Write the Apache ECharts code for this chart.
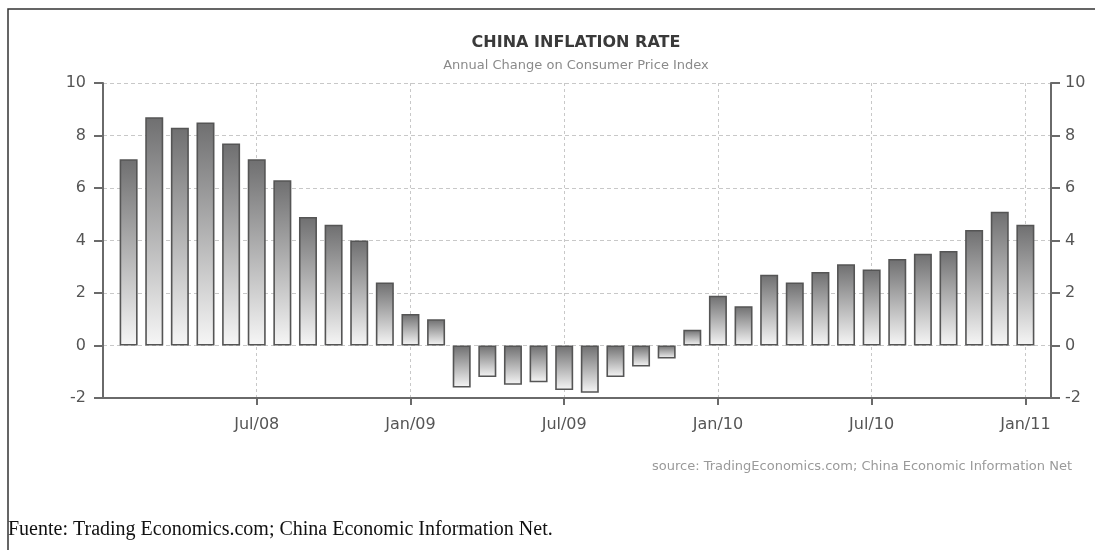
<!DOCTYPE html>
<html><head><meta charset="utf-8">
<script src="https://cdn.jsdelivr.net/npm/echarts@6/dist/echarts.min.js"></script>
<style>html,body{margin:0;padding:0;background:#fff}#c{width:1095px;height:550px}</style>
</head><body><div id="c"></div>
<script>
// Bar positions (month slots on the time axis)
const months = ['Feb/08','Mar/08','Apr/08','May/08','Jun/08','Jul/08','Aug/08','Sep/08','Oct/08','Nov/08','Dec/08',
  'Jan/09','Feb/09','Mar/09','Apr/09','May/09','Jun/09','Jul/09','Aug/09','Sep/09','Oct/09','Nov/09','Dec/09',
  'Jan/10','Feb/10','Mar/10','Apr/10','May/10','Jun/10','Jul/10','Aug/10','Sep/10','Oct/10','Nov/10','Dec/10','Jan/11'];
// Annual change in CPI (%)
const inflation = [7.1,8.7,8.3,8.5,7.7,7.1,6.3,4.9,4.6,4.0,2.4,1.2,
  1.0,-1.6,-1.2,-1.5,-1.4,-1.7,-1.8,-1.2,-0.8,-0.5,0.6,1.9,
  1.5,2.7,2.4,2.8,3.1,2.9,3.3,3.5,3.6,4.4,5.1,4.6];
const xTickLabels = ['Jul/08','Jan/09','Jul/09','Jan/10','Jul/10','Jan/11'];
const yMin = -2, yMax = 10, yStep = 2;

const titleText = 'CHINA INFLATION RATE';
const subtitleText = 'Annual Change on Consumer Price Index';
const sourceText = 'source: TradingEconomics.com; China Economic Information Net';
const footerText = 'Fuente: Trading Economics.com; China Economic Information Net.';

const tickIdx = xTickLabels.map(m => months.indexOf(m));
const font = '"DejaVu Sans", Verdana, sans-serif';

const chart = echarts.init(document.getElementById('c'), null, {renderer: 'canvas'});

const yAxisCommon = {
  type: 'value', min: yMin, max: yMax, interval: yStep,
  axisLine: {show: true, onZero: false, lineStyle: {color: '#6a6a6a', width: 2}},
  axisTick: {show: true, length: 9, lineStyle: {color: '#6a6a6a', width: 2}},
  axisLabel: {color: '#555', fontSize: 16, fontFamily: font, margin: 14}
};

chart.setOption({
  animation: false,
  backgroundColor: '#fff',
  grid: {left: 103, right: 44, top: 83, bottom: 152, containLabel: false},
  xAxis: {
    type: 'value', min: -1, max: 36,
    axisLine: {show: true, onZero: false, lineStyle: {color: '#6a6a6a', width: 2}},
    axisTick: {show: true, customValues: tickIdx, length: 7, lineStyle: {color: '#6a6a6a', width: 2}},
    axisLabel: {show: true, customValues: tickIdx, color: '#555', fontSize: 16, fontFamily: font, margin: 19,
      formatter: v => months[Math.round(v)] || ''},
    splitLine: {show: true, lineStyle: {color: '#c8c8c8', type: [3, 3], width: 1}}
  },
  yAxis: [
    Object.assign({}, yAxisCommon, {position: 'left',
      axisLabel: Object.assign({}, yAxisCommon.axisLabel, {margin: 17}),
      splitLine: {show: true, lineStyle: {color: '#c8c8c8', type: [4, 3], width: 1}}}),
    Object.assign({}, yAxisCommon, {position: 'right', splitLine: {show: false}})
  ],
  series: [{
    type: 'bar',
    yAxisIndex: 0,
    barWidth: 18,
    data: inflation.map((v, i) => [i, v]),
    itemStyle: {
      color: new echarts.graphic.LinearGradient(0, 0, 0, 1, [
        {offset: 0, color: '#6f6f70'},
        {offset: 1, color: '#f6f6f6'}
      ]),
      borderColor: '#555555',
      borderWidth: 1.6
    }
  }],
  graphic: [
    {type: 'polyline', silent: true, shape: {points: [[8, 550], [8, 9], [1095, 9]]},
      style: {stroke: '#333', lineWidth: 1.5, fill: null}},
    {type: 'text', x: 576, y: 43, style: {text: titleText, fill: '#3a3a3a', font: 'bold 16px ' + font,
      textAlign: 'center', textVerticalAlign: 'middle'}},
    {type: 'text', x: 576, y: 66, style: {text: subtitleText, fill: '#8a8a8a', font: '13px ' + font,
      textAlign: 'center', textVerticalAlign: 'middle'}},
    {type: 'text', x: 1072, y: 467, style: {text: sourceText, fill: '#9a9a9a', font: '13px ' + font,
      textAlign: 'right', textVerticalAlign: 'middle'}},
    {type: 'text', x: 8, y: 530, style: {text: footerText, fill: '#111', font: '20px "Liberation Serif", "Times New Roman", serif',
      textAlign: 'left', textVerticalAlign: 'middle'}}
  ]
});
</script>
</body></html>
